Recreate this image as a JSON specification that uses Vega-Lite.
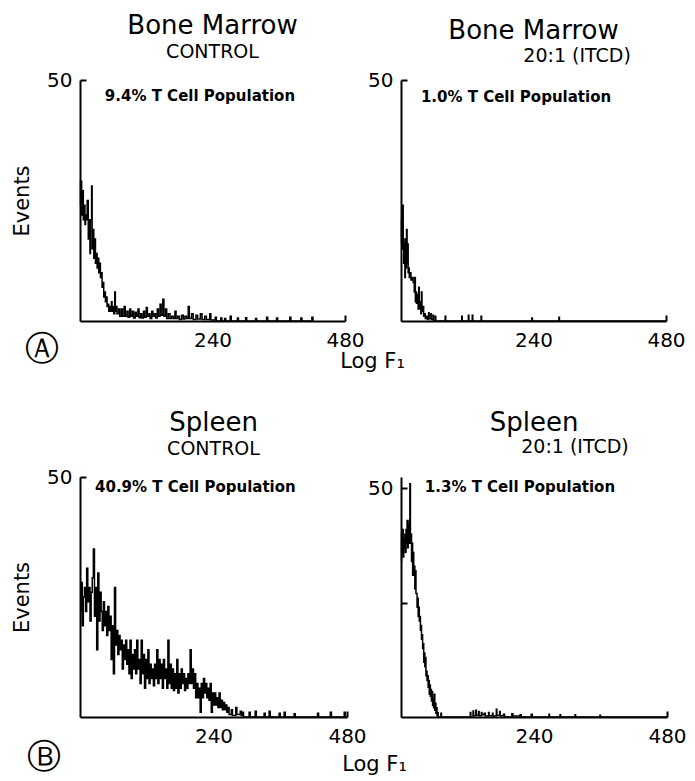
{
"$schema":"https://vega.github.io/schema/vega-lite/v6.json",
"background":"white",
"padding":{"left":11,"top":13,"right":5,"bottom":5},
"bounds":"flush",
"columns":2,
"spacing":{"row":156,"column":54},
"config":{
 "view":{"stroke":null},
 "font":"DejaVu Sans",
 "axis":{"grid":false,"domainColor":"black","domainWidth":2,"tickColor":"black","tickWidth":2,"tickSize":-6,"labelColor":"black","labelFont":"DejaVu Sans","labelFontSize":20,"titleFont":"DejaVu Sans","titleFontSize":21,"titleFontWeight":"normal","titleColor":"black"},
 "axisX":{"labelPadding":15,"labelFlush":false,"labelAngle":0},
 "axisY":{"labelPadding":14,"titlePadding":14},
 "title":{"font":"DejaVu Sans","fontSize":26,"fontWeight":"normal","color":"black","subtitleFont":"DejaVu Sans","subtitleFontSize":19,"subtitleColor":"black","subtitlePadding":4,"offset":8,"anchor":"middle"},
 "text":{"font":"DejaVu Sans","color":"black"}
},
"datasets":{
 "bmc":[{"ch":0,"ev":24},{"ch":1,"ev":29},{"ch":3,"ev":22},{"ch":4,"ev":27},{"ch":6,"ev":21},{"ch":7,"ev":24},{"ch":9,"ev":20},{"ch":10,"ev":22},{"ch":12,"ev":21},{"ch":13,"ev":25},{"ch":15,"ev":17},{"ch":16,"ev":21},{"ch":18,"ev":14},{"ch":19,"ev":21},{"ch":21,"ev":28},{"ch":22,"ev":15},{"ch":24,"ev":19},{"ch":25,"ev":13},{"ch":27,"ev":17},{"ch":28,"ev":12},{"ch":30,"ev":14},{"ch":31,"ev":11},{"ch":33,"ev":13},{"ch":34,"ev":10},{"ch":36,"ev":12},{"ch":37,"ev":9},{"ch":39,"ev":10},{"ch":40,"ev":7},{"ch":42,"ev":8},{"ch":43,"ev":5},{"ch":45,"ev":6},{"ch":46,"ev":4},{"ch":48,"ev":5},{"ch":49,"ev":3},{"ch":51,"ev":3.5},{"ch":52,"ev":2},{"ch":54,"ev":3},{"ch":55,"ev":2},{"ch":57,"ev":4},{"ch":58,"ev":2},{"ch":60,"ev":3},{"ch":61,"ev":1.5},{"ch":63,"ev":6},{"ch":64,"ev":2},{"ch":66,"ev":3},{"ch":67,"ev":1.5},{"ch":70,"ev":2.5},{"ch":72,"ev":1},{"ch":75,"ev":2.5},{"ch":77,"ev":1},{"ch":80,"ev":3},{"ch":82,"ev":1},{"ch":85,"ev":2},{"ch":87,"ev":0.8},{"ch":90,"ev":2.5},{"ch":92,"ev":1},{"ch":95,"ev":2},{"ch":97,"ev":0.6},{"ch":100,"ev":1.8},{"ch":102,"ev":1},{"ch":105,"ev":2.5},{"ch":107,"ev":0.7},{"ch":110,"ev":1.5},{"ch":112,"ev":0.6},{"ch":115,"ev":2},{"ch":117,"ev":0.8},{"ch":120,"ev":2.8},{"ch":122,"ev":1},{"ch":125,"ev":1.5},{"ch":127,"ev":0.5},{"ch":130,"ev":2},{"ch":132,"ev":1},{"ch":135,"ev":1.5},{"ch":137,"ev":0.6},{"ch":140,"ev":2.5},{"ch":142,"ev":1},{"ch":145,"ev":3.5},{"ch":147,"ev":1.2},{"ch":150,"ev":4.5},{"ch":152,"ev":1},{"ch":155,"ev":2.5},{"ch":157,"ev":0.5},{"ch":160,"ev":1.5},{"ch":163,"ev":0.5},{"ch":166,"ev":1},{"ch":169,"ev":0.5},{"ch":172,"ev":2},{"ch":174,"ev":0.5},{"ch":177,"ev":1},{"ch":180,"ev":0.3},{"ch":184,"ev":1.2},{"ch":187,"ev":0.4},{"ch":190,"ev":1},{"ch":193,"ev":0.5},{"ch":196,"ev":3},{"ch":198,"ev":0.5},{"ch":202,"ev":1.5},{"ch":205,"ev":0.3},{"ch":210,"ev":1.2},{"ch":213,"ev":0.4},{"ch":218,"ev":1.5},{"ch":221,"ev":0.3},{"ch":226,"ev":1},{"ch":229,"ev":0.3},{"ch":235,"ev":1.5},{"ch":237,"ev":0.2},{"ch":245,"ev":0.8},{"ch":247,"ev":0},{"ch":255,"ev":0.6},{"ch":257,"ev":0},{"ch":262,"ev":0.5},{"ch":264,"ev":0},{"ch":272,"ev":1},{"ch":274,"ev":0},{"ch":285,"ev":0.6},{"ch":287,"ev":0},{"ch":300,"ev":0.7},{"ch":302,"ev":0},{"ch":318,"ev":0.5},{"ch":320,"ev":0},{"ch":338,"ev":0.8},{"ch":340,"ev":0},{"ch":356,"ev":0.6},{"ch":358,"ev":0},{"ch":380,"ev":0.8},{"ch":382,"ev":0},{"ch":400,"ev":0.6},{"ch":402,"ev":0},{"ch":420,"ev":0.8},{"ch":422,"ev":0}],
 "bmi":[{"ch":0,"ev":16},{"ch":1,"ev":21},{"ch":2,"ev":15},{"ch":3,"ev":24},{"ch":4,"ev":17},{"ch":5,"ev":12},{"ch":6,"ev":16},{"ch":7,"ev":9},{"ch":8,"ev":17},{"ch":9,"ev":11},{"ch":10,"ev":19},{"ch":11,"ev":12},{"ch":12,"ev":16},{"ch":13,"ev":10},{"ch":14,"ev":11},{"ch":15,"ev":9},{"ch":17,"ev":10},{"ch":18,"ev":8.5},{"ch":20,"ev":9},{"ch":22,"ev":8},{"ch":24,"ev":6},{"ch":25,"ev":9},{"ch":26,"ev":4},{"ch":27,"ev":6},{"ch":28,"ev":3.7},{"ch":30,"ev":5.5},{"ch":31,"ev":2.5},{"ch":32,"ev":7},{"ch":33,"ev":2.5},{"ch":35,"ev":4},{"ch":36,"ev":1.5},{"ch":37,"ev":6},{"ch":38,"ev":2},{"ch":40,"ev":3},{"ch":41,"ev":1},{"ch":43,"ev":1.5},{"ch":44,"ev":0.5},{"ch":46,"ev":1},{"ch":48,"ev":0.3},{"ch":50,"ev":1.7},{"ch":51,"ev":0.5},{"ch":54,"ev":1.5},{"ch":55,"ev":0.3},{"ch":58,"ev":1.2},{"ch":59,"ev":0},{"ch":62,"ev":1},{"ch":63,"ev":0},{"ch":80,"ev":1},{"ch":81,"ev":0},{"ch":110,"ev":1},{"ch":111,"ev":0},{"ch":122,"ev":1.2},{"ch":123,"ev":0},{"ch":129,"ev":1.2},{"ch":130,"ev":0},{"ch":145,"ev":1},{"ch":146,"ev":0},{"ch":237,"ev":0.6},{"ch":238,"ev":0},{"ch":286,"ev":0.8},{"ch":287,"ev":0},{"ch":480,"ev":0}],
 "spc":[{"ch":0,"ev":22},{"ch":2,"ev":28},{"ch":4,"ev":19},{"ch":6,"ev":25},{"ch":8,"ev":27},{"ch":10,"ev":22},{"ch":12,"ev":31},{"ch":14,"ev":24},{"ch":16,"ev":27},{"ch":18,"ev":20},{"ch":20,"ev":26},{"ch":22,"ev":29},{"ch":24,"ev":35},{"ch":26,"ev":21},{"ch":28,"ev":27},{"ch":30,"ev":14},{"ch":32,"ev":30},{"ch":34,"ev":20},{"ch":36,"ev":26},{"ch":38,"ev":22},{"ch":40,"ev":18},{"ch":42,"ev":24},{"ch":44,"ev":19},{"ch":46,"ev":22},{"ch":48,"ev":17},{"ch":50,"ev":23},{"ch":52,"ev":18},{"ch":54,"ev":21},{"ch":56,"ev":12},{"ch":58,"ev":19},{"ch":60,"ev":9},{"ch":62,"ev":27},{"ch":64,"ev":15},{"ch":66,"ev":18},{"ch":68,"ev":13},{"ch":70,"ev":17},{"ch":72,"ev":14},{"ch":74,"ev":16},{"ch":76,"ev":10},{"ch":78,"ev":15},{"ch":80,"ev":12},{"ch":82,"ev":16},{"ch":84,"ev":11},{"ch":86,"ev":14},{"ch":88,"ev":9},{"ch":90,"ev":16},{"ch":92,"ev":8},{"ch":94,"ev":13},{"ch":96,"ev":10},{"ch":98,"ev":14},{"ch":100,"ev":9},{"ch":102,"ev":16},{"ch":104,"ev":10},{"ch":106,"ev":12},{"ch":108,"ev":7},{"ch":110,"ev":16},{"ch":112,"ev":9},{"ch":114,"ev":13},{"ch":116,"ev":6},{"ch":118,"ev":12},{"ch":120,"ev":8},{"ch":122,"ev":14},{"ch":124,"ev":7},{"ch":126,"ev":11},{"ch":128,"ev":8},{"ch":130,"ev":10},{"ch":132,"ev":6.5},{"ch":134,"ev":11},{"ch":136,"ev":8},{"ch":138,"ev":14},{"ch":140,"ev":7},{"ch":142,"ev":12},{"ch":144,"ev":8},{"ch":146,"ev":11},{"ch":148,"ev":6},{"ch":150,"ev":12},{"ch":152,"ev":8},{"ch":154,"ev":10},{"ch":156,"ev":6},{"ch":158,"ev":16},{"ch":160,"ev":7},{"ch":162,"ev":11},{"ch":164,"ev":6},{"ch":166,"ev":10},{"ch":168,"ev":5.5},{"ch":170,"ev":9},{"ch":172,"ev":6},{"ch":174,"ev":12},{"ch":176,"ev":5},{"ch":178,"ev":9},{"ch":180,"ev":6},{"ch":182,"ev":10},{"ch":184,"ev":7},{"ch":186,"ev":9},{"ch":188,"ev":5.5},{"ch":190,"ev":8},{"ch":192,"ev":6},{"ch":194,"ev":9},{"ch":196,"ev":7},{"ch":198,"ev":14},{"ch":200,"ev":7},{"ch":202,"ev":10},{"ch":204,"ev":6},{"ch":206,"ev":9},{"ch":208,"ev":4},{"ch":210,"ev":7},{"ch":212,"ev":4},{"ch":214,"ev":6},{"ch":216,"ev":1},{"ch":218,"ev":7},{"ch":220,"ev":4},{"ch":222,"ev":8},{"ch":224,"ev":5},{"ch":226,"ev":7},{"ch":228,"ev":4},{"ch":230,"ev":6},{"ch":232,"ev":3.5},{"ch":234,"ev":7},{"ch":236,"ev":1},{"ch":238,"ev":5},{"ch":240,"ev":2.5},{"ch":242,"ev":5},{"ch":244,"ev":2.5},{"ch":246,"ev":4},{"ch":248,"ev":2},{"ch":250,"ev":5},{"ch":252,"ev":2},{"ch":254,"ev":3.5},{"ch":256,"ev":1.5},{"ch":258,"ev":3},{"ch":260,"ev":1.5},{"ch":262,"ev":2.5},{"ch":264,"ev":1},{"ch":266,"ev":2},{"ch":268,"ev":0.5},{"ch":272,"ev":1.5},{"ch":274,"ev":0.3},{"ch":280,"ev":2},{"ch":282,"ev":0.5},{"ch":288,"ev":1.2},{"ch":290,"ev":0.3},{"ch":292,"ev":1},{"ch":294,"ev":0},{"ch":304,"ev":1},{"ch":306,"ev":0},{"ch":315,"ev":1.2},{"ch":317,"ev":0},{"ch":331,"ev":0.8},{"ch":333,"ev":0},{"ch":340,"ev":1.2},{"ch":342,"ev":0},{"ch":358,"ev":0.8},{"ch":360,"ev":0},{"ch":367,"ev":1},{"ch":369,"ev":0},{"ch":385,"ev":0.7},{"ch":387,"ev":0},{"ch":427,"ev":0.8},{"ch":429,"ev":0},{"ch":450,"ev":1},{"ch":452,"ev":0},{"ch":475,"ev":1},{"ch":477,"ev":0}],
 "spi":[{"ch":0,"ev":34},{"ch":1,"ev":40},{"ch":2,"ev":36},{"ch":3,"ev":41},{"ch":4,"ev":35},{"ch":5,"ev":39},{"ch":6,"ev":37},{"ch":7,"ev":40},{"ch":8,"ev":36},{"ch":9,"ev":41},{"ch":10,"ev":38},{"ch":11,"ev":43},{"ch":12,"ev":37},{"ch":13,"ev":42},{"ch":14,"ev":38},{"ch":15,"ev":43},{"ch":16,"ev":51},{"ch":17,"ev":38},{"ch":18,"ev":40},{"ch":19,"ev":34},{"ch":20,"ev":38},{"ch":21,"ev":31},{"ch":22,"ev":36},{"ch":23,"ev":31},{"ch":24,"ev":33},{"ch":25,"ev":28},{"ch":26,"ev":32},{"ch":27,"ev":27},{"ch":28,"ev":27},{"ch":29,"ev":24},{"ch":30,"ev":26},{"ch":31,"ev":22},{"ch":32,"ev":24},{"ch":33,"ev":21},{"ch":34,"ev":22},{"ch":35,"ev":19},{"ch":36,"ev":20},{"ch":37,"ev":17},{"ch":38,"ev":18},{"ch":39,"ev":15},{"ch":40,"ev":16},{"ch":41,"ev":12},{"ch":42,"ev":14},{"ch":43,"ev":11},{"ch":44,"ev":13},{"ch":45,"ev":9},{"ch":46,"ev":10},{"ch":47,"ev":8},{"ch":48,"ev":9},{"ch":49,"ev":6.5},{"ch":50,"ev":8},{"ch":51,"ev":5},{"ch":52,"ev":7},{"ch":53,"ev":4.5},{"ch":54,"ev":6},{"ch":55,"ev":3.5},{"ch":56,"ev":5.5},{"ch":57,"ev":2.5},{"ch":58,"ev":4},{"ch":59,"ev":2},{"ch":60,"ev":5},{"ch":61,"ev":1.5},{"ch":62,"ev":3},{"ch":63,"ev":0.8},{"ch":64,"ev":2},{"ch":65,"ev":0.3},{"ch":66,"ev":1},{"ch":67,"ev":0},{"ch":72,"ev":0.8},{"ch":73,"ev":0},{"ch":125,"ev":1},{"ch":126,"ev":0},{"ch":130,"ev":1.3},{"ch":131,"ev":0.3},{"ch":135,"ev":1.5},{"ch":136,"ev":0.4},{"ch":140,"ev":1.2},{"ch":141,"ev":0.3},{"ch":145,"ev":1},{"ch":146,"ev":0.5},{"ch":150,"ev":0.8},{"ch":152,"ev":0.2},{"ch":158,"ev":1},{"ch":159,"ev":0.3},{"ch":165,"ev":0.8},{"ch":166,"ev":0.2},{"ch":172,"ev":1.7},{"ch":173,"ev":0.4},{"ch":178,"ev":1.2},{"ch":179,"ev":0.3},{"ch":185,"ev":0.6},{"ch":187,"ev":0},{"ch":200,"ev":0.7},{"ch":202,"ev":0.2},{"ch":215,"ev":0.5},{"ch":217,"ev":0},{"ch":235,"ev":0.6},{"ch":237,"ev":0},{"ch":267,"ev":0.6},{"ch":268,"ev":0},{"ch":287,"ev":0.5},{"ch":288,"ev":0},{"ch":314,"ev":0.5},{"ch":315,"ev":0},{"ch":359,"ev":0.4},{"ch":360,"ev":0},{"ch":480,"ev":0}]
},
"concat":[
  {"width":265,"height":241,
   "title":{"text":"Bone Marrow","subtitle":"CONTROL"},
   "layer":[
    {"data":{"name":"bmc"},"mark":{"type":"line","interpolate":"step-after","color":"black","strokeWidth":1.5},
     "encoding":{
      "x":{"field":"ch","type":"quantitative","scale":{"domain":[0,480],"nice":false},
           "axis":{"values":[240,480],"title":"Log F₁","titleX":292,"titleY":40,"titleAlign":"center","titleBaseline":"middle","tickOpacity":{"condition":{"test":"datum.value === 240","value":0},"value":1}}},
      "y":{"field":"ev","type":"quantitative","scale":{"domain":[0,50],"nice":false},"axis":{"values":[50],"title":"Events"}}}},
    {"data":{"values":[{"label":"9.4% T Cell Population"}]},"mark":{"type":"text","align":"left","baseline":"middle","fontSize":15,"fontWeight":"bold"},
     "encoding":{"x":{"datum":45},"y":{"datum":46.7},"text":{"field":"label"}}},
    {"data":{"values":[{"label":"Ⓐ"}]},"mark":{"type":"text","align":"center","baseline":"middle","fontSize":34},
     "encoding":{"x":{"datum":-69},"y":{"datum":-6},"text":{"field":"label"}}}
   ]},
  {"width":265,"height":241,
   "title":{"text":"Bone Marrow","offset":3},
   "layer":[
    {"data":{"name":"bmi"},"mark":{"type":"line","interpolate":"step-after","color":"black","strokeWidth":1.5},
     "encoding":{
      "x":{"field":"ch","type":"quantitative","scale":{"domain":[0,480],"nice":false},
           "axis":{"values":[240,480],"title":null,"tickOpacity":{"condition":{"test":"datum.value === 240","value":0},"value":1}}},
      "y":{"field":"ev","type":"quantitative","scale":{"domain":[0,50],"nice":false},"axis":{"values":[50],"title":null}}}},
    {"data":{"values":[{"label":"1.0% T Cell Population"}]},"mark":{"type":"text","align":"left","baseline":"middle","fontSize":15,"fontWeight":"bold"},
     "encoding":{"x":{"datum":36},"y":{"datum":46.5},"text":{"field":"label"}}},
    {"data":{"values":[{"label":"20:1 (ITCD)"}]},"mark":{"type":"text","align":"center","baseline":"middle","fontSize":19},
     "encoding":{"x":{"datum":319},"y":{"datum":55},"text":{"field":"label"}}}
   ]},
  {"width":267,"height":240,
   "title":{"text":"Spleen","subtitle":"CONTROL"},
   "layer":[
    {"data":{"name":"spc"},"mark":{"type":"line","interpolate":"step-after","color":"black","strokeWidth":1.5},
     "encoding":{
      "x":{"field":"ch","type":"quantitative","scale":{"domain":[0,480],"nice":false},
           "axis":{"values":[240,480],"title":"Log F₁","titleX":294,"titleY":47,"titleAlign":"center","titleBaseline":"middle","tickOpacity":{"condition":{"test":"datum.value === 240","value":0},"value":1}}},
      "y":{"field":"ev","type":"quantitative","scale":{"domain":[0,50],"nice":false},"axis":{"values":[50],"title":"Events"}}}},
    {"data":{"values":[{"label":"40.9% T Cell Population"}]},"mark":{"type":"text","align":"left","baseline":"middle","fontSize":15,"fontWeight":"bold"},
     "encoding":{"x":{"datum":27},"y":{"datum":47.9},"text":{"field":"label"}}},
    {"data":{"values":[{"label":"Ⓑ"}]},"mark":{"type":"text","align":"center","baseline":"middle","fontSize":34},
     "encoding":{"x":{"datum":-65},"y":{"datum":-8.5},"text":{"field":"label"}}}
   ]},
  {"width":266,"height":240,
   "title":{"text":"Spleen","offset":2},
   "layer":[
    {"data":{"name":"spi"},"mark":{"type":"line","interpolate":"step-after","color":"black","strokeWidth":1.5},
     "encoding":{
      "x":{"field":"ch","type":"quantitative","scale":{"domain":[0,480],"nice":false},
           "axis":{"values":[240,480],"title":null,"tickOpacity":{"condition":{"test":"datum.value === 240","value":0},"value":1}}},
      "y":{"field":"ev","type":"quantitative","scale":{"domain":[0,52.5],"nice":false},"axis":{"values":[25,50],"labelExpr":"datum.value == 50 ? '50' : ''","title":null}}}},
    {"data":{"values":[{"label":"1.3% T Cell Population"}]},"mark":{"type":"text","align":"left","baseline":"middle","fontSize":15,"fontWeight":"bold"},
     "encoding":{"x":{"datum":43},"y":{"datum":50.3},"text":{"field":"label"}}},
    {"data":{"values":[{"label":"20:1 (ITCD)"}]},"mark":{"type":"text","align":"center","baseline":"middle","fontSize":19},
     "encoding":{"x":{"datum":314},"y":{"datum":59},"text":{"field":"label"}}}
   ]}
]
}
